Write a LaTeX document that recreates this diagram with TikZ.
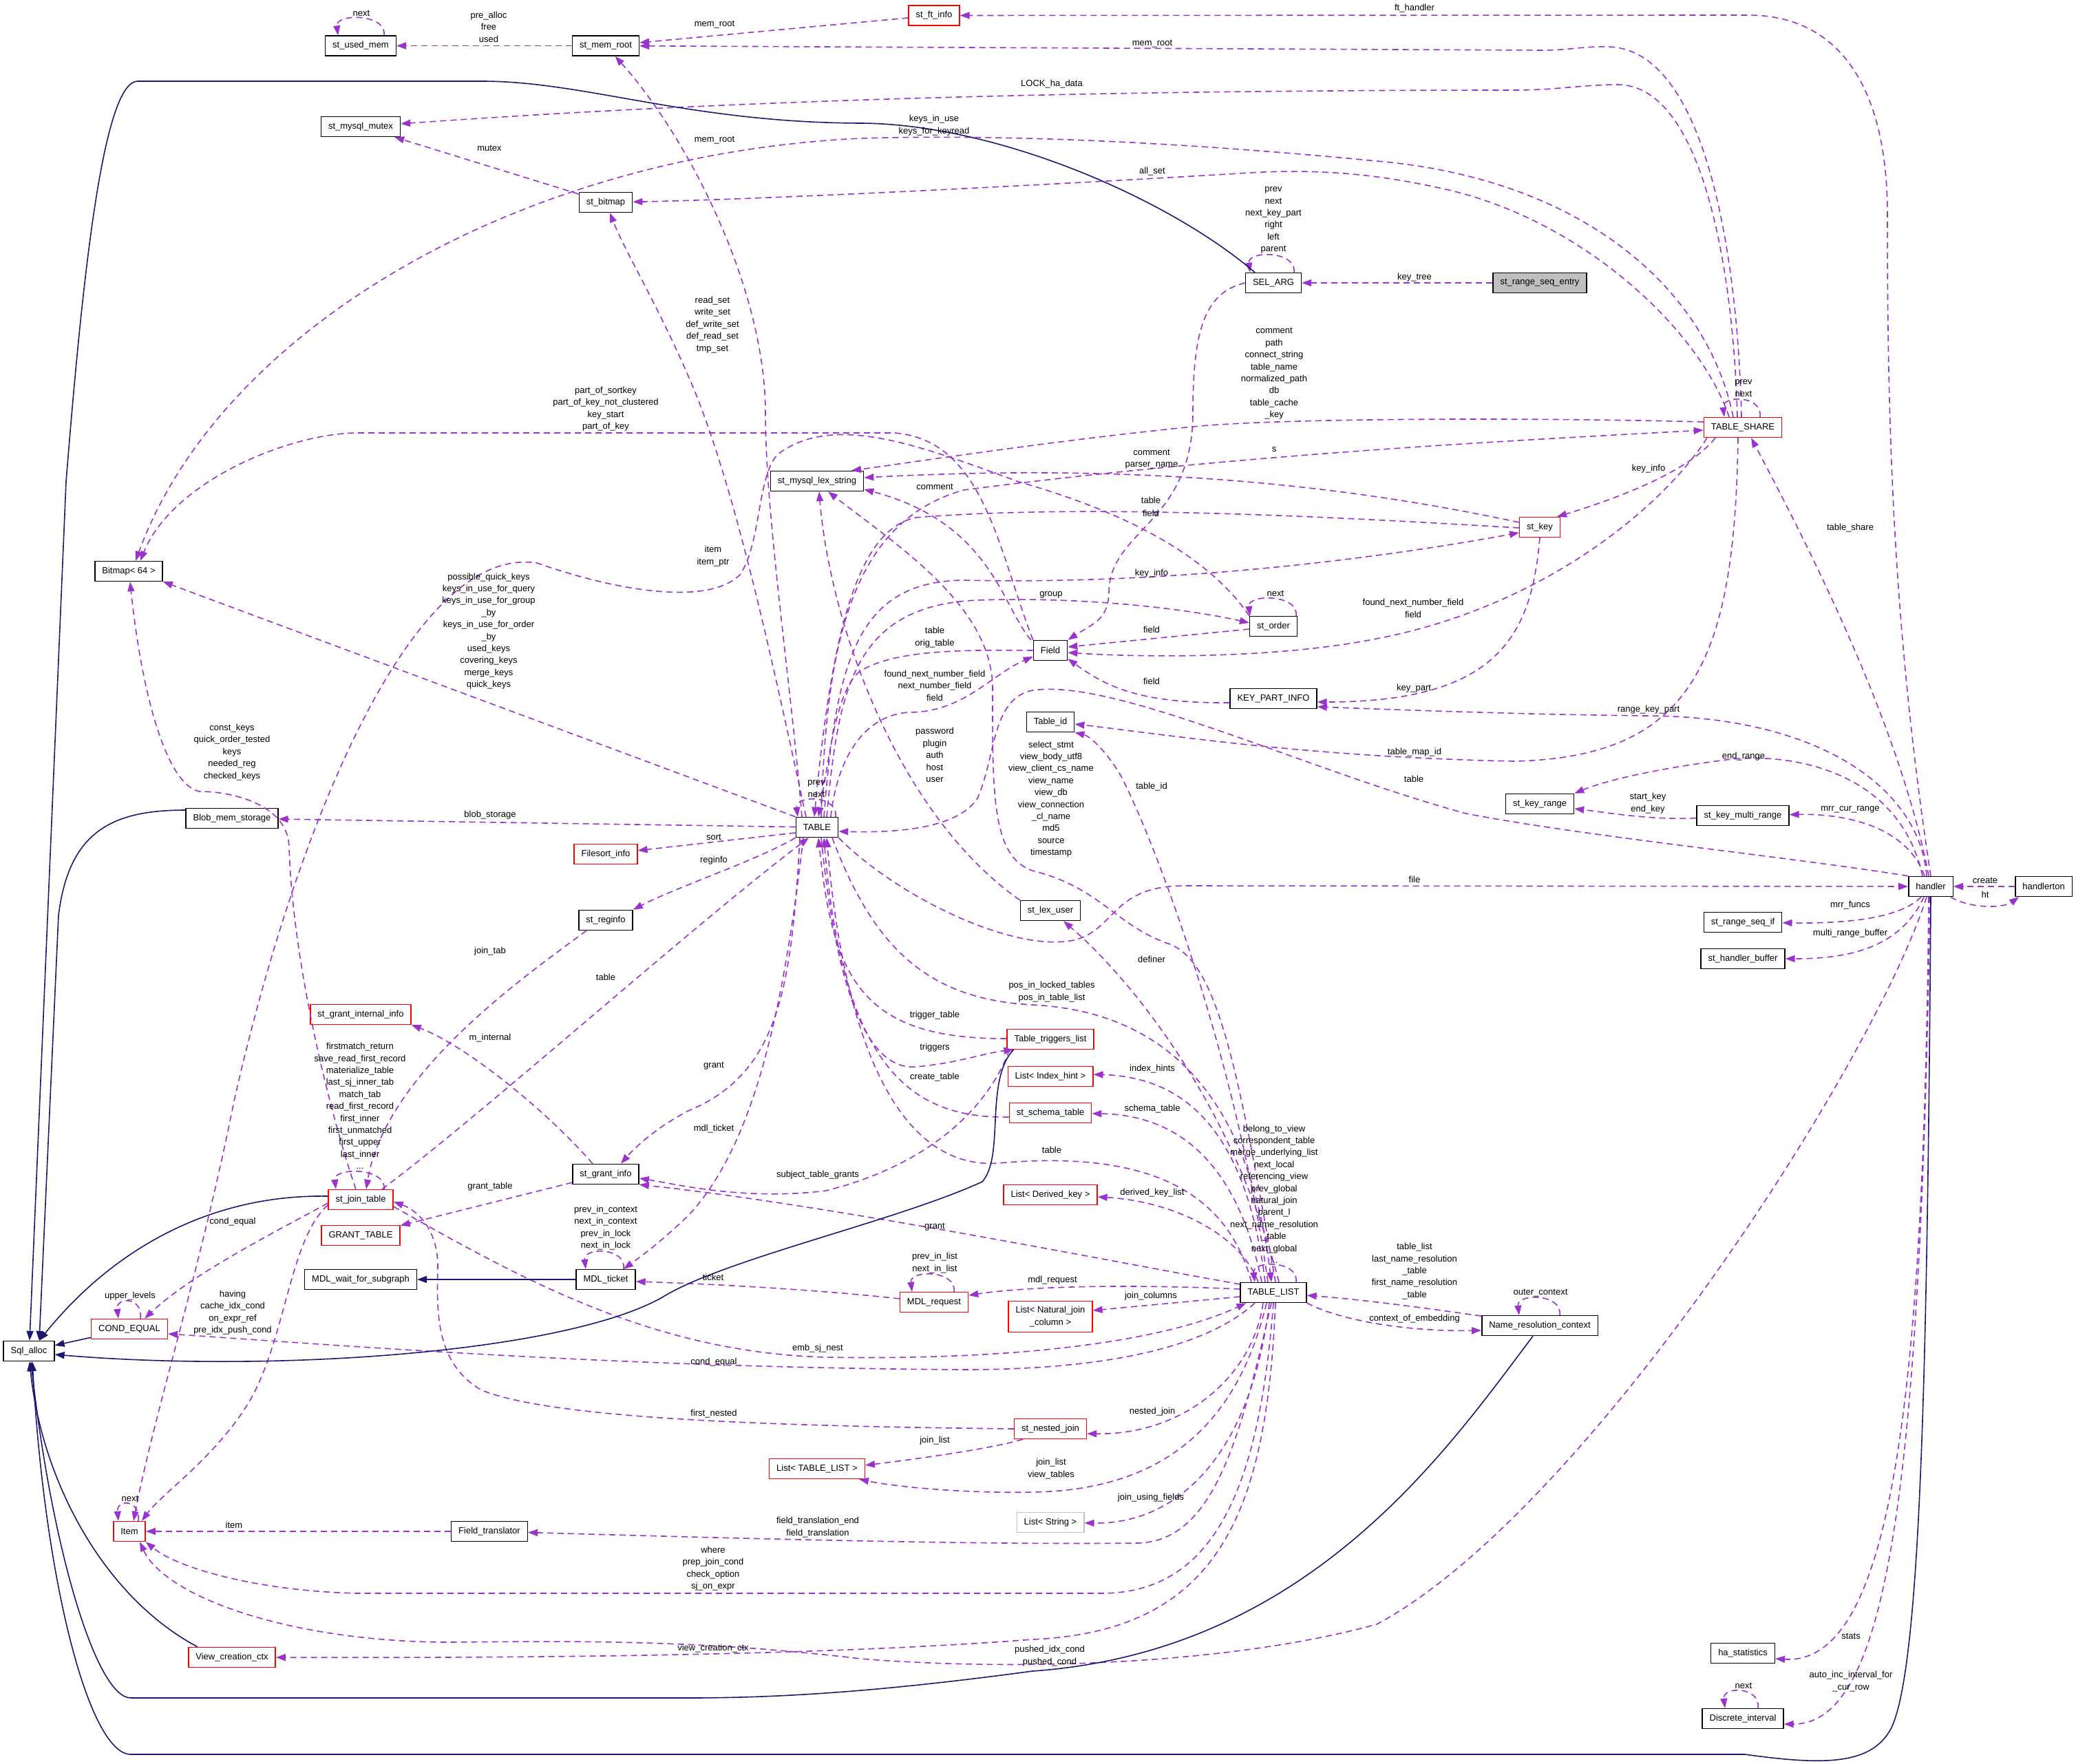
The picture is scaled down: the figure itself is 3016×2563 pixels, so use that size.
\documentclass[tikz,border=0pt]{standalone}
\usepackage{fontspec}
\setmainfont{Liberation Sans}
\usetikzlibrary{arrows.meta,calc}
\definecolor{epurple}{HTML}{9A32CD}
\definecolor{eblue}{HTML}{191970}
\definecolor{boxgray}{HTML}{BFBFBF}
\newcommand{\dgfont}{\fontsize{13pt}{17.4pt}\selectfont}
\tikzset{
  cbox/.style={draw=black, line width=1.4pt, fill=white, font=\dgfont, inner xsep=10.5pt, inner ysep=3pt, minimum height=29pt, align=center},
  rbox/.style={cbox, draw=red},
  gbox/.style={cbox, fill=boxgray},
  lgbox/.style={cbox, draw=boxgray},
  lab/.style={font=\dgfont, align=center, inner sep=0pt},
  ue/.style={draw=epurple, line width=1.6pt, dash pattern=on 9pt off 6pt, -{Triangle[length=14pt,width=10pt]}},
  inh/.style={draw=eblue, line width=1.6pt, -{Triangle[length=14pt,width=10pt]}},
}
\begin{document}
\begin{tikzpicture}[x=1pt,y=-1pt]
\useasboundingbox (0,0) rectangle (3016,2563);
% ---------------- nodes ----------------
\node[cbox] (usedmem) at (524,66.5) {st\_used\_mem};
\node[cbox] (memroot) at (880,66.5) {st\_mem\_root};
\node[rbox] (ftinfo) at (1357,22.5) {st\_ft\_info};
\node[cbox] (mutex) at (524,184) {st\_mysql\_mutex};
\node[cbox] (stbitmap) at (880,294) {st\_bitmap};
\node[cbox] (selarg) at (1850,411) {SEL\_ARG};
\node[gbox] (rse) at (2237,411) {st\_range\_seq\_entry};
\node[rbox] (tshare) at (2532,621) {TABLE\_SHARE};
\node[cbox] (lexstr) at (1187,699) {st\_mysql\_lex\_string};
\node[cbox] (bitmap) at (187,830) {Bitmap< 64 >};
\node[rbox] (stkey) at (2237,766) {st\_key};
\node[cbox] (storder) at (1850,910) {st\_order};
\node[cbox] (field) at (1526,945) {Field};
\node[cbox] (keypart) at (1850,1015) {KEY\_PART\_INFO};
\node[cbox] (tableid) at (1526,1049) {Table\_id};
\node[cbox] (table) at (1187,1202) {TABLE};
\node[cbox] (blob) at (337,1189) {Blob\_mem\_storage};
\node[rbox] (filesort) at (880,1241) {Filesort\_info};
\node[cbox] (reginfo) at (880,1337) {st\_reginfo};
\node[cbox] (lexuser) at (1526,1323) {st\_lex\_user};
\node[cbox] (keyrange) at (2237,1168) {st\_key\_range};
\node[cbox] (keymulti) at (2532,1185) {st\_key\_multi\_range};
\node[cbox] (handler) at (2805,1288) {handler};
\node[cbox] (handlerton) at (2969,1288) {handlerton};
\node[cbox] (rangeseqif) at (2532,1340) {st\_range\_seq\_if};
\node[cbox] (hbuffer) at (2532,1393) {st\_handler\_buffer};
\node[rbox] (ginternal) at (524,1474) {st\_grant\_internal\_info};
\node[rbox] (sjt) at (524,1743) {st\_join\_table};
\node[rbox] (granttable) at (524,1795) {GRANT\_TABLE};
\node[cbox] (grantinfo) at (880,1706) {st\_grant\_info};
\node[cbox] (mdlwait) at (524,1859) {MDL\_wait\_for\_subgraph};
\node[cbox] (mdlticket) at (880,1859) {MDL\_ticket};
\node[rbox] (condeq) at (188,1931) {COND\_EQUAL};
\node[cbox] (sqlalloc) at (42,1963) {Sql\_alloc};
\node[rbox] (trig) at (1526,1510) {Table\_triggers\_list};
\node[rbox] (indexhint) at (1526,1564) {List< Index\_hint >};
\node[rbox] (schema) at (1526,1617) {st\_schema\_table};
\node[rbox] (derived) at (1526,1736) {List< Derived\_key >};
\node[rbox] (mdlrequest) at (1357,1892) {MDL\_request};
\node[rbox, inner ysep=8pt] (natjoin) at (1526,1913) {List< Natural\_join\\\_column >};
\node[cbox] (tablelist) at (1850,1878) {TABLE\_LIST};
\node[cbox] (nrc) at (2237,1926) {Name\_resolution\_context};
\node[rbox] (nestedjoin) at (1526,2076) {st\_nested\_join};
\node[rbox] (listtl) at (1187,2134) {List< TABLE\_LIST >};
\node[lgbox] (liststring) at (1526,2212) {List< String >};
\node[rbox] (item) at (188,2225) {Item};
\node[cbox] (fieldtrans) at (711,2225) {Field\_translator};
\node[rbox] (viewctx) at (337,2408) {View\_creation\_ctx};
\node[cbox] (hastats) at (2532,2402) {ha\_statistics};
\node[cbox] (discrete) at (2532,2497) {Discrete\_interval};
% ---------------- self loops ----------------
\draw[ue] ($(usedmem.north)+(34,0)$) .. controls +(4,-32) and +(-4,-32) .. ($(usedmem.north)+(-33,0)$);
\draw[ue] ($(selarg.north)+(30,0)$) .. controls +(4,-32) and +(-4,-32) .. ($(selarg.north)+(-34,0)$);
\draw[ue] ($(tshare.north)+(25,0)$) .. controls +(4,-32) and +(-4,-32) .. ($(tshare.north)+(-27,0)$);
\draw[ue] ($(storder.north)+(33,0)$) .. controls +(4,-32) and +(-4,-32) .. ($(storder.north)+(-34,0)$);
\draw[ue] ($(table.north)+(27,0)$) .. controls +(4,-32) and +(-4,-32) .. ($(table.north)+(-28,0)$);
\draw[ue] ($(sjt.north)+(34,0)$) .. controls +(4,-32) and +(-4,-32) .. ($(sjt.north)+(-36,0)$);
\draw[ue] ($(mdlticket.north)+(26,0)$) .. controls +(4,-32) and +(-4,-32) .. ($(mdlticket.north)+(-29,0)$);
\draw[ue] ($(mdlrequest.north)+(29,0)$) .. controls +(4,-32) and +(-4,-32) .. ($(mdlrequest.north)+(-32,0)$);
\draw[ue] ($(tablelist.north)+(33,0)$) .. controls +(4,-32) and +(-4,-32) .. ($(tablelist.north)+(-27,0)$);
\draw[ue] ($(condeq.north)+(16,0)$) .. controls +(4,-32) and +(-4,-32) .. ($(condeq.north)+(-16,0)$);
\draw[ue] ($(nrc.north)+(29,0)$) .. controls +(4,-32) and +(-4,-32) .. ($(nrc.north)+(-30,0)$);
\draw[ue] ($(item.north)+(13,0)$) .. controls +(3,-32) and +(-3,-32) .. ($(item.north)+(-16,0)$);
\draw[ue] ($(discrete.north)+(22,0)$) .. controls +(4,-32) and +(-4,-32) .. ($(discrete.north)+(-26,0)$);
% ---------------- usage edges ----------------
\draw[ue] (memroot) -- (usedmem);
\draw[ue] (ftinfo) -- (memroot);
\draw[ue] (handler.north) .. controls (2748,900) and (2742,600) .. (2742,312) .. controls (2742,110) and (2660,22) .. (2540,22) -- (ftinfo);
\draw[ue] ($(tshare.north)+(-2,0)$) .. controls (2525,380) and (2480,72) .. (2337,68) .. controls (2300,67) and (2280,73) .. (2240,73) -- (memroot);
\draw[ue] ($(tshare.north)+(-8,0)$) .. controls (2518,380) and (2470,123) .. (2350,123) .. controls (2300,123) and (2260,131) .. (2200,131) .. controls (1500,131) and (1000,150) .. (mutex);
\draw[ue] (stbitmap) -- (mutex);
\draw[ue] ([xshift=-22pt]table.north) .. controls (1150,1000) and (1112,750) .. (1112,600) .. controls (1112,420) and (1000,200) .. (memroot);
\draw[ue] ($(tshare.north)+(-20,0)$) .. controls (2470,480) and (2300,320) .. (2100,275) .. controls (1990,250) and (1900,245) .. (1800,252) .. controls (1500,270) and (1100,290) .. (stbitmap);
\draw[ue] ($(tshare.north)+(-14,0)$) .. controls (2480,420) and (2300,260) .. (2000,234) .. controls (1700,205) and (1450,195) .. (1250,201) .. controls (750,225) and (320,480) .. ([xshift=10pt]bitmap.north);
\draw[ue] (rse) -- (selarg);
\draw[ue] ([xshift=-16pt]table.north) .. controls (1120,950) and (1070,720) .. (1010,570) .. controls (960,450) and (910,370) .. (stbitmap);
\draw[ue] ([yshift=8pt]tshare.west) .. controls (2200,606) and (1850,608) .. (1733,620) .. controls (1550,638) and (1350,668) .. ([xshift=50pt]lexstr.north);
\draw[ue] (field.north west) .. controls (1450,800) and (1430,640) .. (1300,629) -- (520,629) .. controls (420,629) and (250,700) .. ([xshift=17pt]bitmap.north);
\draw[ue] ([xshift=6pt]table.north) .. controls (1200,950) and (1230,760) .. (1400,712) .. controls (1800,660) and (2200,640) .. ([yshift=-4pt]tshare.west);
\draw[ue] ([yshift=7pt]stkey.west) .. controls (2000,715) and (1700,670) .. ([yshift=5pt]lexstr.east);
\draw[ue] ([xshift=-40pt]tshare.south) .. controls (2450,690) and (2330,730) .. ([xshift=25pt]stkey.north);
\draw[ue] ([xshift=-3pt]field.north west) .. controls (1455,880) and (1440,760) .. ([yshift=-12pt]lexstr.east);
\draw[ue] ([yshift=-1pt]stkey.west) .. controls (2000,755) and (1600,730) .. (1330,752) .. controls (1250,770) and (1210,900) .. ([xshift=-4pt]table.north);
\draw[ue] (selarg.west) .. controls (1750,425) and (1733,480) .. (1733,600) .. controls (1733,760) and (1612,770) .. (1611,860) .. controls (1610,900) and (1590,905) .. (field.north east);
\draw[ue] ([xshift=-3pt]handler.north) .. controls (2760,1050) and (2620,780) .. ([xshift=12pt]tshare.south);
\draw[ue] (storder.north west) .. controls (1750,800) and (1620,740) .. (1480,700) .. controls (1330,645) and (1210,600) .. (1130,660) .. controls (1100,690) and (1106,790) .. (1075,835) .. controls (1030,880) and (900,860) .. (780,818) .. controls (600,790) and (430,1200) .. (340,1600) .. controls (290,1850) and (225,2050) .. ([xshift=6pt]item.north);
\draw[ue] ([xshift=10pt]table.north) .. controls (1215,950) and (1250,845) .. (1400,843) .. controls (1700,850) and (2000,812) .. ([yshift=-8pt]stkey.west);
\draw[ue] ([xshift=14pt]table.north) .. controls (1218,1000) and (1240,880) .. (1420,872) .. controls (1600,866) and (1750,890) .. ([yshift=5pt]storder.west);
\draw[ue] ([xshift=-52pt]tshare.south) .. controls (2420,730) and (2250,880) .. (2000,928) .. controls (1850,958) and (1650,955) .. ([yshift=-3pt]field.east);
\draw[ue] (table.north west) -- (bitmap.south east);
\draw[ue] ([yshift=-4pt]storder.west) -- ([yshift=5pt]field.east);
\draw[ue] (field.west) .. controls (1400,944) and (1300,944) .. (1250,975) .. controls (1215,1000) and (1205,1100) .. ([xshift=2pt]table.north);
\draw[ue] ([xshift=20pt]table.north) .. controls (1215,1110) and (1250,1040) .. (1320,1035) .. controls (1400,1035) and (1440,980) .. ([yshift=-9pt]field.west);
\draw[ue] ([yshift=-6pt]keypart.west) .. controls (1660,1022) and (1610,1000) .. ([yshift=-12pt]field.east);
\draw[ue] (stkey.south) .. controls (2225,920) and (2180,1020) .. ([yshift=-5pt]keypart.east);
\draw[ue] ([xshift=-6pt]handler.north) .. controls (2790,1150) and (2650,1040) .. (2389,1040) .. controls (2200,1038) and (2000,1030) .. ([yshift=-12pt]keypart.east);
\draw[ue] ([xshift=-7pt]sjt.north) .. controls (480,1620) and (425,1400) .. (420,1230) .. controls (418,1170) and (340,1150) .. (290,1150) .. controls (240,1140) and (205,1000) .. ([xshift=2pt]bitmap.south);
\draw[ue] (lexuser.north west) .. controls (1300,1180) and (1205,900) .. ([xshift=3pt]lexstr.south);
\draw[ue] ([xshift=-7pt]tshare.south) .. controls (2520,960) and (2460,1100) .. (2200,1106) .. controls (1900,1100) and (1700,1068) .. ([yshift=-3pt]tableid.east);
\draw[ue] ([xshift=-12pt]handler.north) .. controls (2760,1120) and (2600,1090) .. (2500,1105) .. controls (2400,1118) and (2330,1135) .. (keyrange.north east);
\draw[ue] (handler.north west) .. controls (2600,1245) and (2300,1215) .. (2130,1182) .. controls (1900,1120) and (1620,985) .. (1500,1003) .. controls (1440,1015) and (1447,1100) .. (1420,1160) .. controls (1390,1205) and (1300,1210) .. ([yshift=-6pt]table.east);
\draw[ue] ([xshift=-8pt]tablelist.north) .. controls (1800,1560) and (1690,1250) .. (1630,1130) .. controls (1610,1095) and (1585,1070) .. (tableid.south east);
\draw[ue] ([xshift=3pt]tablelist.north) .. controls (1800,1560) and (1770,1400) .. (1700,1372) .. controls (1620,1345) and (1600,1290) .. (1500,1265) .. controls (1440,1245) and (1442,1150) .. (1442,1000) .. controls (1442,880) and (1300,790) .. ([xshift=16pt]lexstr.south);
\draw[ue] (keymulti) .. controls (2400,1192) and (2330,1180) .. ([yshift=-7pt]keyrange.east);
\draw[ue] ([xshift=-9pt]handler.north) .. controls (2770,1200) and (2680,1182) .. (keymulti);
\draw[ue] (table) -- (blob);
\draw[ue] ([yshift=-8pt]table.west) -- (filesort);
\draw[ue] (table.south west) .. controls (1100,1250) and (980,1290) .. (reginfo.north east);
\draw[ue] (table.south east) .. controls (1300,1300) and (1470,1385) .. (1560,1366) .. controls (1620,1352) and (1615,1287) .. (1720,1287) -- (handler);
\draw[ue] (handlerton) -- (handler);
\draw[ue] ([xshift=-4pt]handler.south east) .. controls (2860,1320) and (2910,1320) .. ([xshift=6pt]handlerton.south west);
\draw[ue] ([xshift=-14pt]handler.south) .. controls (2760,1335) and (2680,1342) .. (rangeseqif);
\draw[ue] ([xshift=-10pt]handler.south) .. controls (2760,1380) and (2680,1393) .. (hbuffer);
\draw[ue] ([xshift=-28pt]reginfo.south) .. controls (760,1420) and (560,1560) .. ([xshift=8pt]sjt.north);
\draw[ue] ([xshift=8pt]tablelist.north) .. controls (1790,1600) and (1640,1420) .. ([xshift=19pt]lexuser.south);
\draw[ue] ([xshift=31pt]sjt.north) .. controls (700,1620) and (1000,1350) .. ([xshift=-12pt]table.south);
\draw[ue] ([xshift=22pt]table.south) .. controls (1270,1380) and (1350,1452) .. (1500,1460) .. controls (1700,1470) and (1815,1600) .. ([xshift=-3pt]tablelist.north);
\draw[ue] ([yshift=1pt]trig.west) .. controls (1250,1510) and (1210,1420) .. ([xshift=2pt]table.south);
\draw[ue] ([xshift=-19pt]grantinfo.north) .. controls (800,1620) and (680,1520) .. (ginternal.south east);
\draw[ue] ([xshift=6pt]table.south) .. controls (1215,1440) and (1260,1555) .. (1330,1550) .. controls (1390,1545) and (1430,1530) .. ([xshift=10pt]trig.south west);
\draw[ue] ([xshift=-25pt]table.south) .. controls (1150,1440) and (1130,1560) .. (1000,1614) .. controls (950,1640) and (920,1670) .. ([xshift=22pt]grantinfo.north);
\draw[ue] ([xshift=-12pt]tablelist.north) .. controls (1810,1640) and (1720,1565) .. ([yshift=3pt]indexhint.east);
\draw[ue] ([yshift=-6pt]schema.west) .. controls (1330,1625) and (1225,1560) .. ([xshift=10pt]table.south);
\draw[ue] ([xshift=-17pt]tablelist.north) .. controls (1800,1700) and (1720,1620) .. (schema);
\draw[ue] ([xshift=-20pt]table.south) .. controls (1140,1450) and (1100,1660) .. (1000,1766) .. controls (960,1805) and (925,1830) .. ([xshift=26pt]mdlticket.north);
\draw[ue] ([xshift=-32pt]tablelist.north) .. controls (1780,1720) and (1650,1672) .. (1450,1690) .. controls (1300,1700) and (1225,1500) .. ([xshift=14pt]table.south);
\draw[ue] ([xshift=4pt]trig.south west) .. controls (1440,1600) and (1360,1690) .. (1200,1730) .. controls (1080,1745) and (980,1720) .. ([yshift=-6pt]grantinfo.east);
\draw[ue] ([xshift=-22pt]tablelist.north) .. controls (1800,1790) and (1700,1745) .. ([yshift=-3pt]derived.east);
\draw[ue] (grantinfo) -- (granttable);
\draw[ue] ([yshift=-5pt]sjt.west) .. controls (400,1790) and (280,1850) .. ([xshift=22pt]condeq.north);
\draw[ue] ([yshift=12pt]tablelist.west) .. controls (1600,1830) and (1200,1750) .. (grantinfo.south east);
\draw[ue] ([yshift=5pt]mdlrequest.west) .. controls (1200,1875) and (1050,1866) .. ([yshift=-3pt]mdlticket.east);
\draw[ue] ([yshift=5pt]tablelist.west) .. controls (1650,1866) and (1500,1868) .. ([yshift=10pt]mdlrequest.east);
\draw[ue] ([yshift=14pt]nrc.west) .. controls (2100,1905) and (2000,1890) .. ([yshift=-4pt]tablelist.east);
\draw[ue] ([yshift=-6pt]tablelist.west) -- ([yshift=9pt]natjoin.east);
\draw[ue] ([yshift=-8pt]sjt.west) .. controls (420,1800) and (415,1950) .. (360,2040) .. controls (310,2120) and (235,2170) .. ([xshift=18pt]item.north);
\draw[ue] (tablelist.south east) .. controls (1950,1920) and (2050,1935) .. ([yshift=-7pt]nrc.west);
\draw[ue] ([yshift=-10pt]sjt.east) .. controls (760,1860) and (950,1965) .. (1200,1972) .. controls (1500,1977) and (1700,1945) .. ([xshift=9pt]tablelist.south west);
\draw[ue] ([xshift=-27pt]tablelist.south) .. controls (1750,1960) and (1600,1990) .. (1400,1990) .. controls (900,1987) and (500,1955) .. ([yshift=-7pt]condeq.east);
\draw[ue] ([xshift=-15pt]tablelist.south) .. controls (1820,2000) and (1720,2085) .. ([yshift=-7pt]nestedjoin.east);
\draw[ue] (nestedjoin.west) .. controls (1100,2072) and (800,2060) .. (700,2020) .. controls (630,1980) and (635,1900) .. (636,1840) .. controls (636,1790) and (610,1760) .. ([yshift=-3pt]sjt.east);
\draw[ue] ([xshift=-40pt]nestedjoin.south) .. controls (1440,2105) and (1330,2120) .. ([yshift=5pt]listtl.east);
\draw[ue] ([xshift=-10pt]tablelist.south) .. controls (1800,2060) and (1700,2165) .. (1500,2168) .. controls (1400,2170) and (1300,2160) .. ([xshift=-9pt]listtl.south east);
\draw[ue] ([xshift=-6pt]tablelist.south) .. controls (1820,2100) and (1720,2215) .. (liststring);
\draw[ue] (fieldtrans) -- (item);
\draw[ue] ([xshift=-3pt]tablelist.south) .. controls (1800,2100) and (1760,2242) .. (1650,2242) .. controls (1400,2245) and (1000,2233) .. (fieldtrans);
\draw[ue] (tablelist.south) .. controls (1830,2150) and (1770,2315) .. (1600,2315) -- (520,2315) .. controls (380,2312) and (260,2280) .. (item.south east);
\draw[ue] ([xshift=-3pt]handler.south) .. controls (2795,2050) and (2745,2420) .. ([yshift=-8pt]hastats.east);
\draw[ue] ([xshift=3pt]tablelist.south) .. controls (1840,2200) and (1770,2370) .. (1500,2382) .. controls (1200,2405) and (800,2409) .. (viewctx);
\draw[ue] ([xshift=-6pt]handler.south) .. controls (2720,1550) and (2300,2200) .. (2000,2360) .. controls (1800,2415) and (1500,2430) .. (1250,2410) .. controls (1000,2380) and (800,2385) .. (650,2386) .. controls (420,2385) and (240,2320) .. ([xshift=15pt]item.south);
\draw[ue] ([xshift=-1pt]handler.south) .. controls (2790,2150) and (2745,2505) .. ([yshift=-8pt]discrete.east);
% ---------------- inheritance edges ----------------
\draw[inh] ([xshift=-27pt]selarg.north) .. controls (1700,290) and (1450,180) .. (1250,179) .. controls (1000,178) and (850,118) .. (700,118) -- (200,118) .. controls (150,118) and (120,400) .. (96,700) -- ([xshift=1pt]sqlalloc.north);
\draw[inh] ([yshift=12pt]blob.west) .. controls (160,1177) and (100,1210) .. (85,1330) -- ([xshift=15pt]sqlalloc.north);
\draw[inh] ([yshift=5pt]sjt.west) .. controls (300,1735) and (160,1820) .. ([xshift=15pt]sqlalloc.north);
\draw[inh] (condeq) -- (sqlalloc);
\draw[inh] ([xshift=10pt]trig.south west) .. controls (1430,1570) and (1460,1680) .. (1427,1717) .. controls (1300,1775) and (1050,1830) .. (962,1885) .. controls (820,1965) and (400,1995) .. ([yshift=-5pt]sqlalloc.east);
\draw[inh] ([xshift=-50pt]viewctx.north) .. controls (150,2320) and (60,2150) .. ([xshift=1pt]sqlalloc.south);
\draw[inh] ([xshift=-10pt]nrc.south) .. controls (2100,2110) and (1900,2400) .. (1500,2428) .. controls (1300,2455) and (1150,2467) .. (1000,2467) -- (190,2467) .. controls (140,2467) and (75,2250) .. ([xshift=3pt]sqlalloc.south);
\draw[inh] (handler.south) .. controls (2800,2000) and (2790,2420) .. (2748,2510) .. controls (2720,2565) and (2650,2565) .. (2535,2549) -- (190,2549) .. controls (130,2549) and (65,2300) .. ([xshift=5pt]sqlalloc.south);
\draw[inh] (mdlticket) -- (mdlwait);
% ---------------- labels ----------------
\node[lab] (l1) at (525,19) {next};
\node[lab] (l2) at (710,39) {pre\_alloc\\free\\used};
\node[lab] (l3) at (1038,36) {mem\_root};
\node[lab] (l4) at (2055,12) {ft\_handler};
\node[lab] (l5) at (1674,64) {mem\_root};
\node[lab] (l6) at (1528,122) {LOCK\_ha\_data};
\node[lab] (l7) at (1357,182) {keys\_in\_use\\keys\_for\_keyread};
\node[lab] (l8) at (1038,204) {mem\_root};
\node[lab] (l9) at (711,215) {mutex};
\node[lab] (l10) at (1674,249) {all\_set};
\node[lab] (l11) at (1850,320) {prev\\next\\next\_key\_part\\right\\left\\parent};
\node[lab] (l12) at (2055,403) {key\_tree};
\node[lab] (l13) at (1035,472) {read\_set\\write\_set\\def\_write\_set\\def\_read\_set\\tmp\_set};
\node[lab] (l14) at (1851,543) {comment\\path\\connect\_string\\table\_name\\normalized\_path\\db\\table\_cache\\\_key};
\node[lab] (l15) at (2533,564) {prev\\next};
\node[lab] (l16) at (880,594) {part\_of\_sortkey\\part\_of\_key\_not\_clustered\\key\_start\\part\_of\_key};
\node[lab] (l17) at (1851,653) {s};
\node[lab] (l18) at (1673,667) {comment\\parser\_name};
\node[lab] (l19) at (2395,681) {key\_info};
\node[lab] (l20) at (1358,707) {comment};
\node[lab] (l21) at (1672,727) {table};
\node[lab] (l22) at (1672,746) {field};
\node[lab] (l23) at (2688,767) {table\_share};
\node[lab] (l24) at (1036,808) {item\\item\_ptr};
\node[lab] (l25) at (1673,833) {key\_info};
\node[lab] (l26) at (1527,864) {group};
\node[lab] (l27) at (1853,862) {next};
\node[lab] (l28) at (2053,884) {found\_next\_number\_field\\field};
\node[lab] (l29) at (710,917) {possible\_quick\_keys\\keys\_in\_use\_for\_query\\keys\_in\_use\_for\_group\\\_by\\keys\_in\_use\_for\_order\\\_by\\used\_keys\\covering\_keys\\merge\_keys\\quick\_keys};
\node[lab] (l30) at (1673,915) {field};
\node[lab] (l31) at (1358,926) {table\\orig\_table};
\node[lab] (l32) at (1358,996) {found\_next\_number\_field\\next\_number\_field\\field};
\node[lab] (l33) at (1673,990) {field};
\node[lab] (l34) at (2054,1000) {key\_part};
\node[lab] (l35) at (2395,1031) {range\_key\_part};
\node[lab] (l36) at (337,1093) {const\_keys\\quick\_order\_tested\\keys\\needed\_reg\\checked\_keys};
\node[lab] (l37) at (1358,1097) {password\\plugin\\auth\\host\\user};
\node[lab] (l38) at (2055,1093) {table\_map\_id};
\node[lab] (l39) at (2533,1099) {end\_range};
\node[lab] (l40) at (2054,1132) {table};
\node[lab] (l41) at (1673,1143) {table\_id};
\node[lab] (l42) at (1186,1146) {prev\\next};
\node[lab] (l43) at (1527,1161) {select\_stmt\\view\_body\_utf8\\view\_client\_cs\_name\\view\_name\\view\_db\\view\_connection\\\_cl\_name\\md5\\source\\timestamp};
\node[lab] (l44) at (2394,1167) {start\_key\\end\_key};
\node[lab] (l45) at (2688,1176) {mrr\_cur\_range};
\node[lab] (l46) at (712,1184) {blob\_storage};
\node[lab] (l47) at (1037,1216) {sort};
\node[lab] (l48) at (1037,1250) {reginfo};
\node[lab] (l49) at (2055,1278) {file};
\node[lab] (l50) at (2884,1279) {create};
\node[lab] (l51) at (2884,1300) {ht};
\node[lab] (l52) at (2688,1315) {mrr\_funcs};
\node[lab] (l53) at (2688,1356) {multi\_range\_buffer};
\node[lab] (l54) at (712,1382) {join\_tab};
\node[lab] (l55) at (1673,1394) {definer};
\node[lab] (l56) at (880,1420) {table};
\node[lab] (l57) at (1528,1441) {pos\_in\_locked\_tables\\pos\_in\_table\_list};
\node[lab] (l58) at (1358,1475) {trigger\_table};
\node[lab] (l59) at (712,1508) {m\_internal};
\node[lab] (l60) at (1358,1522) {triggers};
\node[lab] (l61) at (1037,1549) {grant};
\node[lab] (l62) at (1674,1553) {index\_hints};
\node[lab] (l63) at (1358,1565) {create\_table};
\node[lab] (l64) at (523,1607) {firstmatch\_return\\save\_read\_first\_record\\materialize\_table\\last\_sj\_inner\_tab\\match\_tab\\read\_first\_record\\first\_inner\\first\_unmatched\\first\_upper\\last\_inner\\...};
\node[lab] (l65) at (1674,1611) {schema\_table};
\node[lab] (l66) at (1037,1640) {mdl\_ticket};
\node[lab] (l67) at (1851,1735) {belong\_to\_view\\correspondent\_table\\merge\_underlying\_list\\next\_local\\referencing\_view\\prev\_global\\natural\_join\\parent\_l\\next\_name\_resolution\\\_table\\next\_global\\...};
\node[lab] (l68) at (1528,1671) {table};
\node[lab] (l69) at (1188,1707) {subject\_table\_grants};
\node[lab] (l70) at (1674,1733) {derived\_key\_list};
\node[lab] (l71) at (712,1724) {grant\_table};
\node[lab] (l72) at (338,1775) {cond\_equal};
\node[lab] (l73) at (1358,1783) {grant};
\node[lab] (l74) at (880,1784) {prev\_in\_context\\next\_in\_context\\prev\_in\_lock\\next\_in\_lock};
\node[lab] (l75) at (1358,1835) {prev\_in\_list\\next\_in\_list};
\node[lab] (l76) at (1036,1856) {ticket};
\node[lab] (l77) at (1529,1860) {mdl\_request};
\node[lab] (l78) at (2055,1847) {table\_list\\last\_name\_resolution\\\_table\\first\_name\_resolution\\\_table};
\node[lab] (l79) at (2238,1879) {outer\_context};
\node[lab] (l80) at (189,1883) {upper\_levels};
\node[lab] (l81) at (1672,1883) {join\_columns};
\node[lab] (l82) at (338,1907) {having\\cache\_idx\_cond\\on\_expr\_ref\\pre\_idx\_push\_cond};
\node[lab] (l83) at (2055,1916) {context\_of\_embedding};
\node[lab] (l84) at (1188,1959) {emb\_sj\_nest};
\node[lab] (l85) at (1037,1979) {cond\_equal};
\node[lab] (l86) at (1674,2051) {nested\_join};
\node[lab] (l87) at (1037,2054) {first\_nested};
\node[lab] (l88) at (1358,2093) {join\_list};
\node[lab] (l89) at (1527,2134) {join\_list\\view\_tables};
\node[lab] (l90) at (1672,2176) {join\_using\_fields};
\node[lab] (l91) at (189,2177) {next};
\node[lab] (l92) at (340,2216) {item};
\node[lab] (l93) at (1188,2219) {field\_translation\_end\\field\_translation};
\node[lab] (l94) at (1036,2279) {where\\prep\_join\_cond\\check\_option\\sj\_on\_expr};
\node[lab] (l95) at (2689,2377) {stats};
\node[lab] (l96) at (1036,2395) {view\_creation\_ctx};
\node[lab] (l97) at (1525,2406) {pushed\_idx\_cond\\pushed\_cond};
\node[lab] (l98) at (2689,2443) {auto\_inc\_interval\_for\\\_cur\_row};
\node[lab] (l99) at (2533,2449) {next};
\end{tikzpicture}
\end{document}
